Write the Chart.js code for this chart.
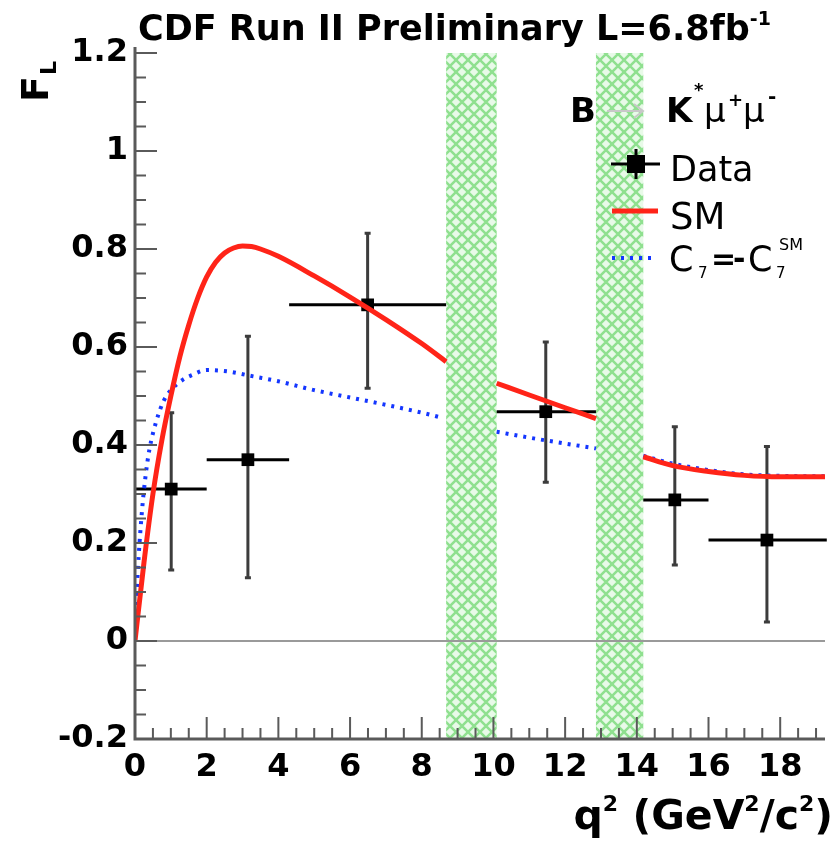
<!DOCTYPE html>
<html>
<head>
<meta charset="utf-8">
<title>F_L vs q2</title>
<script src="https://cdn.jsdelivr.net/npm/chart.js@4.4.1/dist/chart.umd.min.js"></script>
<style>
  html, body { margin: 0; padding: 0; background: #fff; }
  canvas { display: block; }
</style>
</head>
<body>
<canvas id="fl-chart" width="834" height="849"></canvas>
<script>
// F_L of B -> K* mu mu versus q^2, with SM and flipped-C7 predictions

// measured bins
const binLo     = [0.0, 2.0, 4.3, 10.09, 14.18, 16.0];
const binHi     = [2.0, 4.3, 8.68, 12.86, 16.0, 19.3];
const binCenter = [1.01, 3.15, 6.49, 11.46, 15.06, 17.63];
const flValue   = [0.31, 0.37, 0.686, 0.468, 0.288, 0.206];
const flErrUp   = [0.156, 0.252, 0.146, 0.142, 0.149, 0.191];
const flErrDown = [0.165, 0.241, 0.17, 0.144, 0.133, 0.167];

// charmonium veto regions
const vetoLo = [8.68, 12.86];
const vetoHi = [10.09, 14.18];

// SM prediction (null = gap over the vetoes)
const smQ2 = [0, 0.25, 0.5, 0.75, 1.0, 1.25, 1.5, 1.75, 2.0, 2.25, 2.5, 2.75, 3.0, 3.25, 3.5, 4.0, 5.0, 6.0, 7.0, 8.0, 8.68,
              9.4, 10.09, 11.0, 12.0, 12.86, 13.5, 14.18, 15.0, 16.0, 17.0, 18.0, 19.3];
const smFL = [0, 0.16, 0.3, 0.41, 0.5, 0.58, 0.645, 0.7, 0.743, 0.773, 0.792, 0.802, 0.806, 0.805, 0.8, 0.785, 0.745, 0.702, 0.656, 0.607, 0.57,
              null, 0.526, 0.502, 0.476, 0.454, null, 0.376, 0.358, 0.346, 0.338, 0.335, 0.335];

// C7 = -C7(SM) prediction
const c7Q2 = [0, 0.05, 0.1, 0.2, 0.3, 0.4, 0.6, 0.8, 1.0, 1.33, 1.6, 2.0, 2.6, 3.3, 4.0, 5.0, 6.0, 7.0, 8.0, 8.6,
              9.4, 10.09, 11.0, 12.0, 12.86, 13.5, 14.18, 15.0, 16.0, 17.0, 18.0, 19.3];
const c7FL = [0, 0.1, 0.17, 0.27, 0.34, 0.39, 0.45, 0.49, 0.512, 0.533, 0.543, 0.553, 0.55, 0.54, 0.53, 0.512, 0.497, 0.482, 0.466, 0.455,
              null, 0.427, 0.415, 0.403, 0.393, null, 0.378, 0.362, 0.349, 0.34, 0.337, 0.336];

// axis ticks
const xTicks = [0, 2, 4, 6, 8, 10, 12, 14, 16, 18];
const yTicks = [-0.2, 0, 0.2, 0.4, 0.6, 0.8, 1, 1.2];
const xMinorStep = 0.5;
const yMinorStep = 0.05;

const RED = '#ff2418';
const BLUE = '#1436ff';
const AXIS = '#5a5a5a';

function toPoints(xs, ys){
    return xs.map((x, i) => ({ x: x, y: ys[i] }));
}

// hatched fill for the veto bands
function makeHatch(){
    const c = document.createElement('canvas');
    c.width = 12; c.height = 12;
    const g = c.getContext('2d');
    g.fillStyle = 'rgba(190,240,190,0.35)';
    g.fillRect(0, 0, 12, 12);
    g.strokeStyle = 'rgba(95,210,95,0.65)';
    g.lineWidth = 2.5;
    g.beginPath();
    g.moveTo(0, 0); g.lineTo(12, 12);
    g.moveTo(12, 0); g.lineTo(0, 12);
    g.stroke();
    return g.createPattern(c, 'repeat');
}

const vetoBands = {
    id: 'vetoBands',
    beforeDatasetsDraw(chart){
        const {ctx, chartArea, scales} = chart;
        ctx.save();
        ctx.fillStyle = makeHatch();
        vetoLo.forEach((lo, i) => {
            const x0 = scales.x.getPixelForValue(lo);
            const x1 = scales.x.getPixelForValue(vetoHi[i]);
            ctx.fillRect(x0, chartArea.top, x1 - x0, chartArea.bottom - chartArea.top);
        });
        // zero line
        const y0 = scales.y.getPixelForValue(0);
        ctx.strokeStyle = '#9a9a9a';
        ctx.lineWidth = 2;
        ctx.beginPath();
        ctx.moveTo(chartArea.left, y0);
        ctx.lineTo(chartArea.right, y0);
        ctx.stroke();
        ctx.restore();
    }
};

const errorBars = {
    id: 'errorBars',
    beforeDatasetDraw(chart, args){
        if(args.index !== 2) return;
        const {ctx, scales} = chart;
        ctx.save();
        ctx.lineWidth = 3;
        binCenter.forEach((q, i) => {
            const xc = scales.x.getPixelForValue(q);
            const yc = scales.y.getPixelForValue(flValue[i]);
            const yt = scales.y.getPixelForValue(flValue[i] + flErrUp[i]);
            const yb = scales.y.getPixelForValue(flValue[i] - flErrDown[i]);
            const xl = scales.x.getPixelForValue(binLo[i]);
            const xr = scales.x.getPixelForValue(binHi[i]);
            ctx.strokeStyle = '#3c3c3c';
            ctx.beginPath();
            ctx.moveTo(xc, yt); ctx.lineTo(xc, yb);
            ctx.moveTo(xc - 3, yt); ctx.lineTo(xc + 3, yt);
            ctx.moveTo(xc - 3, yb); ctx.lineTo(xc + 3, yb);
            ctx.stroke();
            ctx.strokeStyle = '#000';
            ctx.beginPath();
            ctx.moveTo(xl, yc); ctx.lineTo(xr, yc);
            ctx.stroke();
        });
        ctx.restore();
    }
};

// inward ticks and the two axis lines
const axisFrame = {
    id: 'axisFrame',
    afterDraw(chart){
        const {ctx, chartArea: a, scales} = chart;
        ctx.save();
        ctx.strokeStyle = AXIS;
        ctx.lineWidth = 2;
        ctx.beginPath();
        for(let q = 0; q <= scales.x.max + 1e-9; q += xMinorStep){
            const px = scales.x.getPixelForValue(q);
            const major = Math.abs(q / 2 - Math.round(q / 2)) < 1e-6;
            ctx.moveTo(px, a.bottom);
            ctx.lineTo(px, a.bottom - (major ? 22 : 11));
        }
        for(let f = -0.2; f <= 1.2 + 1e-9; f += yMinorStep){
            const py = scales.y.getPixelForValue(f);
            const major = Math.abs(f / 0.2 - Math.round(f / 0.2)) < 1e-6;
            ctx.moveTo(a.left, py);
            ctx.lineTo(a.left + (major ? 22 : 11), py);
        }
        ctx.stroke();
        ctx.lineWidth = 3;
        ctx.beginPath();
        ctx.moveTo(a.left, a.top - 6);
        ctx.lineTo(a.left, a.bottom);
        ctx.lineTo(a.right, a.bottom);
        ctx.stroke();
        ctx.restore();
    }
};

// draws a run of [text, font, dy, color, extraGap] pieces left to right
function drawRun(ctx, x, y, pieces){
    pieces.forEach(p => {
        ctx.font = p[1];
        ctx.fillStyle = p[3] || '#000';
        ctx.fillText(p[0], x, y + (p[2] || 0));
        x += ctx.measureText(p[0]).width + (p[4] || 0);
    });
    return x;
}

function drawAt(ctx, text, font, x, y, color){
    ctx.font = font;
    ctx.fillStyle = color || '#000';
    ctx.fillText(text, x, y);
}

const textLayer = {
    id: 'textLayer',
    afterDraw(chart){
        const {ctx} = chart;
        const bold = s => 'bold ' + s + 'px "DejaVu Sans"';
        const reg = s => s + 'px "DejaVu Sans"';
        ctx.save();
        ctx.textBaseline = 'alphabetic';
        ctx.textAlign = 'left';

        // header
        drawRun(ctx, 138, 40, [
            ['CDF Run II Preliminary L=6.8fb', bold(35)],
            ['-1', bold(19), -15]
        ]);

        // x title
        const xt = [['q', bold(41)], ['2', bold(22), -18], [' (GeV', bold(41)], ['2', bold(22), -18],
                    ['/c', bold(41)], ['2', bold(22), -18], [')', bold(41)]];
        let w = 0;
        xt.forEach(p => { ctx.font = p[1]; w += ctx.measureText(p[0]).width; });
        drawRun(ctx, 833 - w, 829, xt);

        // y title, rotated
        ctx.save();
        ctx.translate(48, 102);
        ctx.rotate(-Math.PI / 2);
        drawRun(ctx, 0, 0, [['F', bold(38), 0, '#000', 1], ['L', bold(22), 8]]);
        ctx.restore();

        // legend header: B -> K* mu+ mu-
        drawAt(ctx, 'B', bold(34), 570, 122);
        ctx.strokeStyle = '#c8c8c8';
        ctx.lineWidth = 2;
        ctx.beginPath();
        ctx.moveTo(607, 111); ctx.lineTo(642, 111);
        ctx.moveTo(634, 104); ctx.lineTo(643, 111); ctx.lineTo(634, 118);
        ctx.stroke();
        drawAt(ctx, 'K', bold(34), 666, 122);
        drawAt(ctx, '*', bold(18), 694, 96);
        drawAt(ctx, '\u03bc', reg(34), 704, 122);
        drawAt(ctx, '+', bold(18), 728, 106);
        drawAt(ctx, '\u03bc', reg(34), 743, 122);
        drawAt(ctx, '-', bold(20), 768, 103);

        // Data entry
        ctx.strokeStyle = '#000';
        ctx.lineWidth = 3;
        ctx.beginPath();
        ctx.moveTo(611, 164); ctx.lineTo(660, 164);
        ctx.moveTo(636, 149); ctx.lineTo(636, 179);
        ctx.stroke();
        ctx.fillStyle = '#000';
        ctx.fillRect(627, 155, 18, 18);
        drawAt(ctx, 'Data', reg(35), 670, 181);

        // SM entry
        ctx.strokeStyle = RED;
        ctx.lineWidth = 5;
        ctx.beginPath();
        ctx.moveTo(612, 211); ctx.lineTo(658, 211);
        ctx.stroke();
        drawAt(ctx, 'SM', reg(37), 670, 229);

        // C7 = -C7^SM entry
        ctx.strokeStyle = BLUE;
        ctx.lineWidth = 4;
        ctx.setLineDash([3, 6]);
        ctx.beginPath();
        ctx.moveTo(612, 258); ctx.lineTo(656, 258);
        ctx.stroke();
        ctx.setLineDash([]);
        drawAt(ctx, 'C', reg(35), 669, 271);
        drawAt(ctx, '7', reg(15), 698, 278);
        drawAt(ctx, '=', bold(30), 711, 269);
        drawAt(ctx, '-', bold(30), 733, 269);
        drawAt(ctx, 'C', reg(35), 748, 271);
        drawAt(ctx, '7', reg(15), 776, 278);
        drawAt(ctx, 'SM', reg(16), 779, 250);

        ctx.restore();
    }
};

const tickFont = { family: 'DejaVu Sans', weight: 'bold', size: 32 };

new Chart(document.getElementById('fl-chart'), {
    type: 'line',
    data: {
        datasets: [
            {
                label: 'SM',
                data: toPoints(smQ2, smFL),
                borderColor: RED,
                borderWidth: 5,
                pointRadius: 0,
                spanGaps: false,
                cubicInterpolationMode: 'monotone'
            },
            {
                label: 'C7 = -C7 SM',
                data: toPoints(c7Q2, c7FL),
                borderColor: BLUE,
                borderWidth: 4,
                borderDash: [3, 6],
                pointRadius: 0,
                spanGaps: false,
                cubicInterpolationMode: 'monotone'
            },
            {
                label: 'Data',
                data: toPoints(binCenter, flValue),
                showLine: false,
                pointStyle: 'rect',
                pointRadius: 9,
                pointBackgroundColor: '#000',
                pointBorderWidth: 0
            }
        ]
    },
    options: {
        responsive: false,
        animation: false,
        events: [],
        layout: { padding: { top: 53, right: 2, left: 0, bottom: 0 } },
        plugins: {
            legend: { display: false },
            tooltip: { enabled: false }
        },
        scales: {
            x: {
                type: 'linear',
                min: 0,
                max: 19.25,
                afterBuildTicks: s => { s.ticks = xTicks.map(v => ({ value: v })); },
                afterFit: s => { s.height = 110; },
                grid: { display: false, drawTicks: false },
                border: { display: false },
                ticks: { font: tickFont, color: '#000', padding: 9, maxRotation: 0, autoSkip: false }
            },
            y: {
                type: 'linear',
                min: -0.2,
                max: 1.2,
                afterBuildTicks: s => { s.ticks = yTicks.map(v => ({ value: v })); },
                afterFit: s => { s.width = 135; },
                grid: { display: false, drawTicks: false },
                border: { display: false },
                ticks: {
                    font: tickFont,
                    color: '#000',
                    padding: 7,
                    autoSkip: false,
                    callback: v => String(Math.round(v * 10) / 10)
                }
            }
        }
    },
    plugins: [vetoBands, errorBars, axisFrame, textLayer]
});
</script>
</body>
</html>
